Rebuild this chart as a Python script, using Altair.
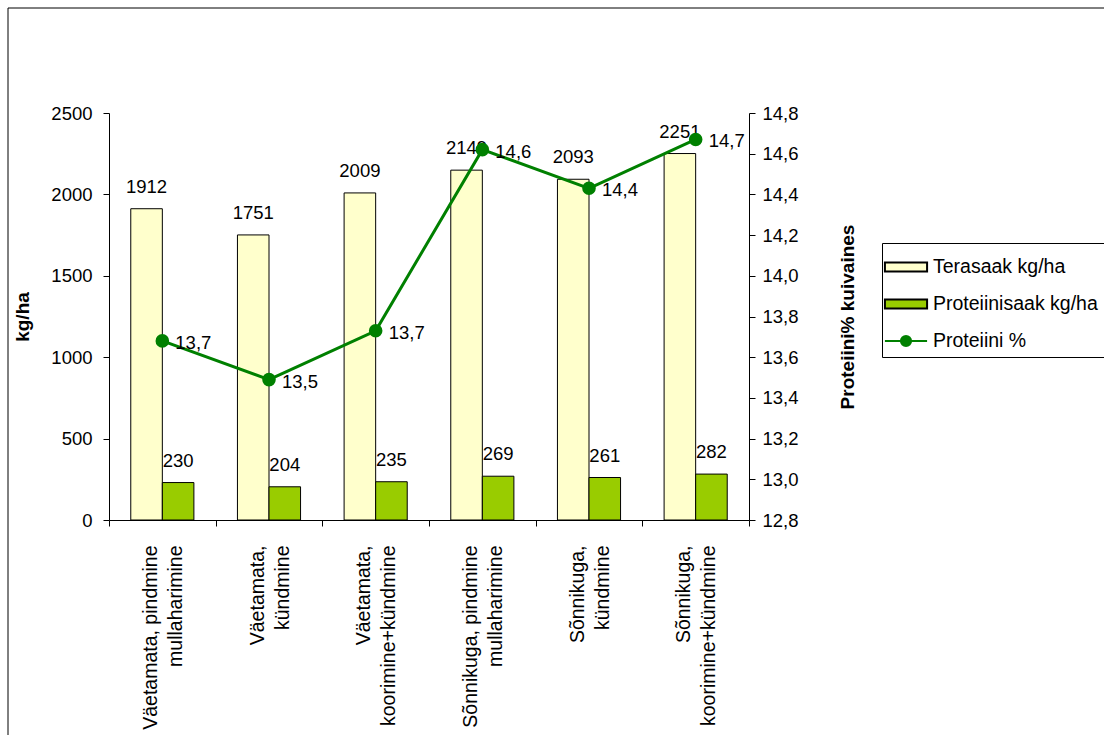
import altair as alt
import pandas as pd

# ---- data ----
categories = [
    "Väetamata, pindmine\nmullaharimine",
    "Väetamata,\nkündmine",
    "Väetamata,\nkoorimine+kündmine",
    "Sõnnikuga, pindmine\nmullaharimine",
    "Sõnnikuga,\nkündmine",
    "Sõnnikuga,\nkoorimine+kündmine",
]
terasaak = [1912, 1751, 2009, 2149, 2093, 2251]
proteiinisaak = [230, 204, 235, 269, 261, 282]
proteiini_pct = [13.68, 13.49, 13.73, 14.62, 14.43, 14.67]
series = ["Terasaak kg/ha", "Proteiinisaak kg/ha", "Proteiini %"]
series_fill = ["#FFFFCC", "#99CC00", "#008000"]
series_stroke = ["black", "black", "#008000"]
left_ticks = [0, 500, 1000, 1500, 2000, 2500]
right_ticks = [12.8, 13.0, 13.2, 13.4, 13.6, 13.8, 14.0, 14.2, 14.4, 14.6, 14.8]

rows = []
for c, t, p in zip(categories, terasaak, proteiinisaak):
    rows.append({"cat": c, "series": series[0], "value": t})
    rows.append({"cat": c, "series": series[1], "value": p})
bars_df = pd.DataFrame(rows)
line_df = pd.DataFrame({"cat": categories, "series": series[2], "pct": proteiini_pct})

FONT = "Liberation Sans"
FS = 18.5      # numbers
FS_TXT = 19.5  # words
FS_TITLE = 19

rect_path = "M-1.24,-0.26H1.24V0.26H-1.24Z"
line_path = "M-1.24,0H1.24M0.3,0A0.3,0.3,0,1,1,-0.3,0A0.3,0.3,0,1,1,0.3,0Z"

fill_scale = alt.Scale(domain=series, range=series_fill)
stroke_scale = alt.Scale(domain=series, range=series_stroke)
shape_scale = alt.Scale(domain=series, range=[rect_path, rect_path, line_path])

x_enc = alt.X(
    "cat:N",
    sort=categories,
    scale=alt.Scale(domain=categories, paddingInner=0, paddingOuter=0),
    axis=alt.Axis(
        title=None,
        labelAngle=270,
        labelExpr="split(datum.label, '\\n')",
        labelLineHeight=25,
        labelFontSize=FS_TXT,
        labelPadding=19,
        labelOffset=-12,
        labelLimit=400,
        labelOverlap=False,
        tickBand="extent",
        tickSize=6,
        domainColor="black",
        tickColor="black",
        labelColor="black",
    ),
)

xoff = alt.XOffset(
    "series:N",
    scale=alt.Scale(domain=series[:2], paddingInner=0, paddingOuter=0.69),
)

y_left = alt.Y(
    "value:Q",
    scale=alt.Scale(domain=[0, 2500], nice=False, zero=True),
    axis=alt.Axis(
        values=left_ticks,
        format="d",
        title="kg/ha",
        titleFontSize=FS_TITLE,
        titleFontWeight="bold",
        titlePadding=18,
        titleColor="black",
        labelFontSize=FS,
        labelPadding=11,
        labelColor="black",
        tickSize=6,
        grid=False,
        domainColor="black",
        tickColor="black",
    ),
)

y_right = alt.Y(
    "pct:Q",
    scale=alt.Scale(domain=[12.8, 14.8], nice=False, zero=False),
    axis=alt.Axis(
        orient="right",
        values=right_ticks,
        labelExpr="replace(format(datum.value, '.1f'), '.', ',')",
        title="Proteiini% kuivaines",
        titleAngle=270,
        titleFontSize=FS_TITLE,
        titleFontWeight="bold",
        titlePadding=59,
        titleColor="black",
        labelFontSize=FS,
        labelPadding=7,
        labelColor="black",
        tickSize=6,
        grid=False,
        domainColor="black",
        tickColor="black",
    ),
)

leg = alt.Legend(
    title=None,
    orient="none",
    legendX=773,
    legendY=130,
    strokeColor="black",
    fillColor="white",
    padding=6,
    labelFontSize=FS_TXT,
    labelColor="black",
    labelOffset=9,
    labelLimit=400,
    symbolSize=1156,
    symbolStrokeWidth=2,
    symbolOpacity=1,
    rowPadding=9,
)

frame = alt.Chart(pd.DataFrame({"a": [0]})).mark_rect(
    fill="transparent", stroke="black", strokeWidth=1
).encode(
    x=alt.value(-101), x2=alt.value(1200), y=alt.value(-105), y2=alt.value(800)
)

bars = alt.Chart(bars_df).mark_bar(stroke="black", strokeWidth=1).encode(
    x=x_enc,
    xOffset=xoff,
    y=y_left,
    fill=alt.Fill("series:N", scale=fill_scale, legend=leg),
)

bar_text = alt.Chart(bars_df).mark_text(
    baseline="alphabetic", dy=-16, fontSize=FS, color="black"
).encode(
    x=x_enc,
    xOffset=xoff,
    y=y_left,
    text=alt.Text("value:Q", format="d"),
)

bars_layer = alt.layer(frame, bars, bar_text)

line = alt.Chart(line_df).mark_line(strokeWidth=3, color="#008000").encode(
    x=x_enc, y=y_right
)
points = alt.Chart(line_df).mark_circle(size=185, opacity=1, color="#008000").encode(
    x=x_enc, y=y_right
)
line_text = alt.Chart(line_df).transform_calculate(
    lbl="replace(format(datum.pct, '.1f'), '.', ',')"
).mark_text(align="left", baseline="middle", dx=13, dy=2, fontSize=FS, color="black").encode(
    x=x_enc, y=y_right, text="lbl:N"
)

legend_dummy = alt.Chart(line_df).transform_filter("false").mark_point(
    filled=True, opacity=1
).encode(
    fill=alt.Fill("series:N", scale=fill_scale, legend=leg),
    stroke=alt.Stroke("series:N", scale=stroke_scale, legend=leg),
    shape=alt.Shape("series:N", scale=shape_scale, legend=leg),
)

line_layer = alt.layer(line, points, line_text, legend_dummy)

chart = (
    alt.layer(bars_layer, line_layer)
    .resolve_scale(y="independent")
    .properties(
        width=640,
        height=407,
        autosize=alt.AutoSizeParams(type="none"),
        padding={"left": 109, "top": 113, "right": 355, "bottom": 215},
        background="white",
    )
    .configure(font=FONT)
    .configure_view(stroke="transparent")
    .configure_legend(symbolFillColor="white", symbolStrokeColor="black", symbolOpacity=1)
)

chart.save("out.html", embed_options={"renderer": "svg", "actions": False})
